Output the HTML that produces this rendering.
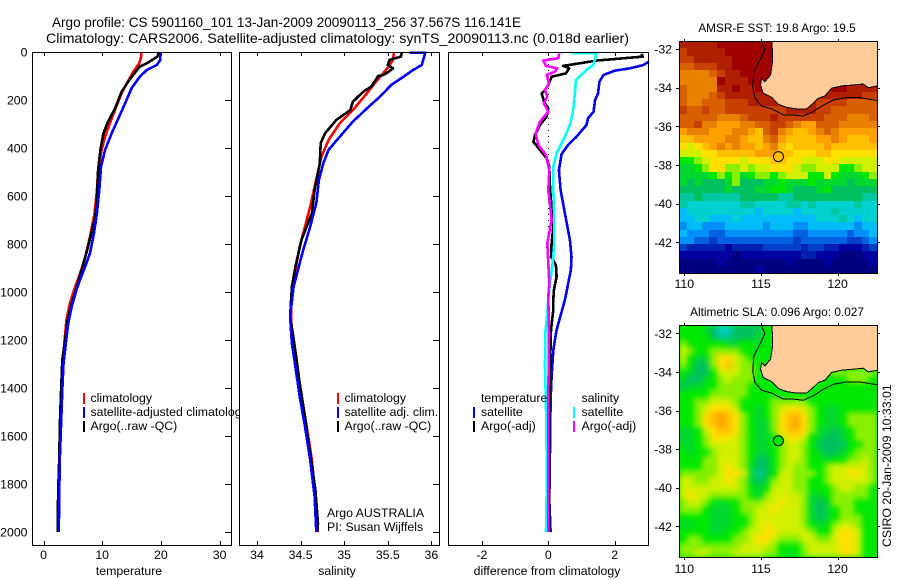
<!DOCTYPE html>
<html lang="en">
<head>
<meta charset="utf-8">
<title>Argo profile chart</title>
<style>
html,body{margin:0;padding:0;background:#fff;width:900px;height:580px;overflow:hidden}
svg{display:block}
text{font-family:"Liberation Sans",sans-serif;fill:#000}
</style>
</head>
<body>
<svg id="chart" xmlns="http://www.w3.org/2000/svg" width="900" height="580" viewBox="0 0 900 580">
<defs>
<filter id="slaBlur" color-interpolation-filters="sRGB"><feGaussianBlur stdDeviation="3"/></filter>
<clipPath id="slaClip"><rect x="679" y="325" width="198" height="232"/></clipPath>
</defs>
<rect x="0" y="0" width="900" height="580" fill="#fff"/>
<text x="52" y="27" font-size="14" textLength="469" lengthAdjust="spacingAndGlyphs">Argo profile: CS 5901160_101 13-Jan-2009 20090113_256 37.567S 116.141E</text>
<text x="46" y="43" font-size="14" textLength="583" lengthAdjust="spacingAndGlyphs">Climatology: CARS2006. Satellite-adjusted climatology: synTS_20090113.nc (0.018d earlier)</text>
<g id="layer"></g>
</svg>
<script>
// ---- axis ticks ----
const depthTicks = [0,200,400,600,800,1000,1200,1400,1600,1800,2000];
const tempTicks = [0,10,20,30];
const salTicks = [34,34.5,35,35.5,36];
const diffTicks = [-2,0,2];
const lonTicks = [110,115,120];
const latTicks = [-32,-34,-36,-38,-40,-42];

// ---- temperature panel ----
const tempClimDepth = [0,26,47,82,117,172,221,297,353,408,492,575,672,772,855,925,992,1047,1117,1200,1283,1408,1547,1686,1825,2000];
const tempClim = [16.7,16.6,16.3,15.3,14.5,13.3,12.5,11.3,10.5,9.9,9.3,9.1,8.7,7.9,7.1,6.2,5.2,4.5,3.9,3.6,3.3,3.0,2.9,2.7,2.5,2.4];
const tempSatDepth = [0,33,54,75,103,151,214,269,339,408,478,575,672,755,839,894,950,992,1061,1131,1214,1297,1408,1547,1686,1825,2000];
const tempSat = [19.9,19.9,19.3,17.6,16.4,15.0,13.9,12.9,11.6,10.5,9.8,9.5,9.1,8.6,7.9,7.1,6.2,5.6,4.8,4.2,3.8,3.4,3.2,3.0,2.8,2.7,2.6];
const tempArgoDepth = [0,19,47,61,110,165,235,290,339,408,492,617,686,811,908,992,1047,1117,1200,1283,1408,1547,1686,1825,2000];
const tempArgo = [19.7,19.4,17.6,16.4,14.8,13.3,12.2,11.0,10.2,9.7,9.3,9.1,8.8,7.6,6.5,5.5,4.8,4.1,3.7,3.2,3.0,2.8,2.7,2.5,2.4];

// ---- salinity panel ----
const salClimDepth = [3,33,61,96,130,172,242,297,367,436,547,644,728,811,908,978,1103,1214,1311,1436,1561,1700,1852,2000];
const salClim = [35.57,35.56,35.51,35.43,35.35,35.26,35.10,34.95,34.82,34.74,34.67,34.61,34.55,34.49,34.44,34.40,34.39,34.41,34.455,34.51,34.57,34.63,34.67,34.70];
const salSatDepth = [3,3,40,54,75,103,137,186,235,290,353,408,464,533,630,728,825,908,978,1103,1214,1311,1436,1561,1700,1852,2000];
const salSat = [35.75,35.93,35.90,35.89,35.79,35.68,35.54,35.41,35.26,35.10,34.95,34.82,34.76,34.71,34.68,34.61,34.53,34.47,34.42,34.38,34.40,34.44,34.49,34.55,34.61,34.66,34.68];
const salArgoDepth = [3,19,33,54,68,82,96,100,144,165,207,242,283,339,380,464,575,672,783,894,978,1103,1172,1269,1380,1519,1672,1825,1964,2000];
const salArgo = [35.66,35.65,35.52,35.50,35.56,35.51,35.45,35.39,35.31,35.22,35.10,35.07,34.91,34.78,34.73,34.72,34.66,34.63,34.51,34.44,34.40,34.38,34.41,34.45,34.49,34.55,34.61,34.67,34.70,34.69];

// ---- difference panel ----
const diffTempSatDepth = [40,55,68,78,96,124,172,200,249,276,304,353,387,425,492,575,672,783,853,908,964,1019,1033,1158,1242,1353,1450,1658,1867,2000];
const diffTempSat = [3.03,2.85,2.46,2.0,1.66,1.54,1.5,1.41,1.36,1.2,1.15,.85,.6,.4,.32,.37,.5,.65,.7,.68,.6,.52,.5,.25,.15,.1,.07,.05,.03,.07];
const diffTempArgoDepth = [8,19,36,58,68,89,103,137,158,172,207,235,269,304,346,374,408,443,478,561,658,728,797,853,887,936,992,1033,1075,1158,1311,1589,2000];
const diffTempArgo = [2.8,2.85,1.45,.45,.63,.53,.1,0,-.1,-.2,-.13,0,-.05,-.25,-.4,-.45,-.25,-.05,.03,.05,.1,.15,.1,.08,.23,.25,.17,.15,.15,.08,.05,.02,.02];
const diffSalSatDepth = [6,6,33,54,75,117,172,242,297,353,422,478,575,686,797,881,964,1026,1089,1172,1311,1478,1658,1853,2000];
const diffSalSat = [.7,1.45,1.4,1.35,1.15,.83,.8,.75,.67,.5,.25,.15,.15,.18,.18,.13,.05,0,-.03,-.09,-.1,-.07,-.05,-.05,-.07];
const diffSalArgoDepth = [6,26,36,58,68,82,96,130,158,186,214,249,290,339,387,429,492,575,658,700,797,881,964,1019,1172,1450,2000];
const diffSalArgo = [.33,.3,-.15,-.07,.27,.2,-.05,.02,-.1,-.03,-.13,0,-.25,-.38,-.3,-.07,.03,0,.07,.1,-.03,0,.03,0,.02,0,0];
const diffZeroDepth = [0,2000];
const diffZero = [0,0];

// ---- maps: level grids, top row = north ----
const sstGrid = [
[20,20,20,20,20,21,21,21,21,21,21,21,21,21,21,21,21,21,21,21,21,21,21,21,21,21],
[19,20,20,20,20,20,21,21,21,21,21,21,21,21,21,21,21,21,21,21,21,21,21,21,21,21],
[19,19,20,20,20,20,20,21,21,21,21,21,21,21,21,21,21,21,21,21,21,21,21,21,21,21],
[18,18,19,19,19,20,20,21,21,21,21,21,21,21,21,21,21,21,21,21,21,21,21,21,21,21],
[17,17,17,17,18,19,20,20,21,21,21,21,21,21,21,21,21,21,21,21,21,21,21,21,21,21],
[17,17,17,17,17,21,20,20,20,21,21,21,21,21,21,21,21,21,21,21,21,21,21,21,21,21],
[18,17,17,17,17,20,20,21,20,20,21,20,20,20,20,20,20,20,20,20,21,21,20,20,20,20],
[18,17,17,17,18,19,20,20,20,20,20,20,20,20,20,20,20,20,20,20,20,20,20,20,19,19],
[18,17,17,18,18,18,19,19,19,20,20,20,20,20,20,20,20,20,19,19,19,19,18,18,18,18],
[19,18,18,19,18,18,19,19,19,19,19,19,19,19,20,20,20,20,19,19,18,18,18,18,18,18],
[18,18,18,18,18,17,17,17,18,19,19,19,20,19,19,19,19,19,19,18,18,18,17,17,17,18],
[18,18,19,17,17,16,16,16,17,17,18,18,19,19,18,17,16,16,18,18,18,17,17,17,17,17],
[16,17,17,17,16,16,16,17,17,16,15,18,19,17,16,15,15,16,17,18,17,16,16,16,16,16],
[15,15,16,16,16,16,17,17,16,15,15,17,18,16,15,15,15,15,16,16,17,16,15,15,15,16],
[14,13,14,15,16,17,16,17,16,16,15,16,17,15,14,15,15,15,15,16,15,15,15,15,15,15],
[13,13,13,14,14,15,15,15,15,15,16,16,16,15,15,14,14,14,15,15,14,14,14,14,14,14],
[11,11,12,13,14,14,14,14,13,14,14,14,15,15,14,14,13,13,13,14,14,13,13,13,13,13],
[10,10,11,12,14,14,12,12,13,12,13,13,14,14,14,13,12,12,13,13,13,11,11,12,13,13],
[10,10,10,10,11,12,11,12,10,11,12,12,11,12,13,13,13,11,11,13,11,10,10,10,11,12],
[10,9,10,9,9,9,10,12,9,9,9,10,10,11,10,10,10,11,10,10,10,10,9,10,10,10],
[9,9,9,9,9,9,10,9,9,9,10,10,11,11,10,9,9,9,10,11,9,9,9,9,9,9],
[8,8,9,8,8,8,8,8,9,9,9,9,9,8,8,9,9,9,9,9,9,9,9,9,8,8],
[8,7,7,7,7,7,7,7,8,8,7,7,7,7,8,8,7,8,7,7,7,7,7,8,7,7],
[6,7,7,7,7,7,7,7,7,7,6,7,7,7,7,6,7,7,7,7,8,7,7,7,7,7],
[6,6,7,7,6,6,6,7,6,6,6,6,6,6,6,6,6,6,7,7,7,8,7,6,7,7],
[5,6,6,5,5,5,6,6,6,6,6,5,6,6,6,5,5,6,6,6,6,6,6,5,6,6],
[6,5,5,5,4,4,5,5,5,5,5,5,5,5,5,4,4,5,5,5,5,5,4,5,5,6],
[5,5,4,4,3,4,4,4,4,4,4,4,4,4,4,3,4,4,4,4,4,4,3,3,4,5],
[3,2,2,2,2,2,1,2,2,2,2,3,3,3,3,3,2,3,3,2,2,1,1,1,2,3],
[1,1,1,1,1,1,1,0,1,1,1,1,1,1,1,1,2,2,1,1,1,0,0,0,1,1],
[0,0,0,0,0,1,0,0,0,0,0,0,0,0,1,0,0,0,0,1,0,0,0,0,0,1],
[0,0,0,0,0,0,0,0,0,0,1,0,0,0,0,0,0,0,0,0,0,0,0,0,0,0]
];
const slaGrid = [
[11,11,11,10,9,7,7,9,9,9,9,11,11,11,11,11,11,11,11,11,11,11,11,11,11,11],
[11,11,11,11,9,8,8,9,9,9,10,11,11,11,11,11,11,11,11,11,11,11,11,11,11,11],
[12,11,11,11,11,11,10,10,11,11,10,11,11,11,11,11,11,11,11,11,11,11,11,11,11,11],
[13,12,11,11,12,12,12,12,11,11,11,11,11,11,11,11,11,11,11,11,11,11,11,11,11,11],
[13,11,10,10,12,14,14,13,12,11,11,11,11,11,11,11,11,11,11,11,11,11,11,11,11,11],
[12,11,9,9,12,14,15,13,12,12,11,11,11,11,11,11,11,11,11,11,11,11,11,11,11,11],
[11,10,9,9,11,13,13,13,12,12,11,11,11,11,11,11,11,11,11,11,12,12,12,12,12,12],
[10,9,9,10,11,12,13,12,12,12,11,11,11,11,11,11,11,11,11,11,11,11,12,12,12,11],
[9,10,10,11,11,12,12,12,12,11,11,11,11,11,11,11,11,11,11,11,11,11,11,11,11,11],
[11,11,11,11,12,12,12,12,12,11,11,11,11,11,11,11,11,11,11,11,11,11,11,11,11,11],
[11,11,12,12,13,13,13,12,11,11,11,11,12,12,12,12,12,11,11,11,11,11,11,11,11,11],
[11,11,12,13,14,14,14,13,11,11,10,11,12,13,14,14,13,12,11,10,10,11,11,11,11,11],
[11,11,12,14,15,16,15,14,12,11,10,11,12,14,15,15,14,12,11,10,10,11,12,12,12,12],
[11,11,12,14,15,16,15,14,12,11,10,10,12,14,15,16,14,12,11,10,10,11,12,12,12,12],
[10,10,11,13,14,15,15,14,12,11,10,10,12,14,15,15,14,12,10,10,9,10,11,12,12,12],
[10,10,11,12,14,14,14,13,12,11,10,10,11,13,14,14,13,11,10,9,9,10,11,12,12,12],
[10,10,11,12,13,13,13,13,12,11,10,10,11,12,13,13,12,11,9,9,9,9,11,11,12,12],
[11,10,11,11,12,13,13,13,12,11,10,10,11,12,13,13,12,11,10,9,9,10,11,12,12,12],
[11,11,11,12,12,13,13,13,12,11,9,9,11,12,13,13,12,11,11,10,11,11,12,12,13,12],
[11,11,11,12,12,13,14,13,12,10,9,9,11,12,13,12,12,11,11,12,13,13,13,13,13,12],
[12,12,12,12,12,13,14,14,13,10,8,9,11,13,13,12,12,12,11,12,13,13,14,14,13,12],
[13,13,12,12,13,13,14,13,12,10,9,10,12,13,13,12,12,11,11,12,13,13,13,13,13,12],
[13,13,13,13,13,13,13,13,12,11,10,11,13,13,13,12,12,11,11,11,12,13,13,12,12,11],
[13,14,13,13,12,12,12,12,12,11,10,12,13,13,13,13,12,10,10,11,12,12,12,12,12,11],
[12,13,13,12,11,10,11,11,12,12,12,13,13,14,13,13,12,10,9,10,12,12,12,11,11,11],
[12,12,12,11,10,10,10,11,12,12,13,13,14,13,13,13,12,10,9,10,11,12,12,11,11,11],
[11,11,11,11,10,10,10,11,11,12,13,13,13,13,13,13,12,10,9,10,11,12,12,12,11,11],
[10,10,11,11,10,10,10,11,11,12,13,14,13,13,13,13,12,11,10,11,12,13,13,12,11,11],
[11,11,11,11,10,10,11,11,12,13,13,14,14,13,13,13,13,12,11,11,13,14,14,13,11,11],
[11,12,12,11,11,11,11,12,12,13,14,14,13,12,12,12,13,13,12,12,13,14,14,13,11,11],
[12,12,12,12,12,12,12,12,13,13,13,13,12,11,11,11,12,13,13,13,13,14,14,13,11,11],
[12,12,13,13,12,12,12,13,13,13,13,12,12,11,10,11,12,13,13,13,13,14,14,13,11,11]
];
const levelColors = ['#000080','#0000a0','#0020b0','#0040c8','#0060e0','#0090f8','#00bcf8','#00d0d0','#00c8a0','#00c060','#00d830','#00e800','#88f000','#d0f000','#ffe000','#ffc000','#ffa000','#e88000','#d86000','#c84000','#b02000','#a00000'];
const coastLon = [115.70,115.74,115.74,115.63,115.26,115.04,114.98,115.15,115.70,116.13,116.67,117.33,117.98,118.41,118.74,119.17,119.61,120.26,121.02,121.67,122.0,122.6,122.6];
const coastLat = [-31.6,-31.97,-32.74,-33.34,-33.69,-33.52,-33.86,-34.29,-34.50,-34.86,-35.02,-35.10,-35.10,-34.81,-34.55,-34.43,-34.03,-33.91,-33.86,-33.81,-34.0,-33.91,-31.6];
const isobathLon = [115.04,115.26,114.93,114.54,114.46,114.61,115.04,115.70,116.46,117.11,117.76,118.41,119.07,119.72,120.59,121.46,122.6];
const isobathLat = [-31.6,-32.02,-32.57,-33.17,-33.95,-34.55,-34.95,-35.10,-35.41,-35.41,-35.47,-35.24,-34.90,-34.64,-34.52,-34.52,-34.67];
const floatLon = [116.141];
const floatLat = [-37.567];
const sstFloatLevel = [15];
const slaFloatLevel = [11];

const SVGNS = 'http://www.w3.org/2000/svg';
const layer = document.getElementById('layer');
function add(tag, attrs, name, txt, parent){
  const el = document.createElementNS(SVGNS, tag);
  for (const k in attrs) el.setAttribute(k, attrs[k]);
  
  
  if (txt !== undefined) el.textContent = txt;
  (parent || layer).appendChild(el);
  return el;
}
function label(x, y, s, anchor, name, size){
  return add('text', {x:x, y:y, 'font-size':size||12.3, 'text-anchor':anchor||'start'}, name, s);
}

// axis functions
const yDepth = d => 52 + 0.24 * d;
const xTemp = v => 43.5 + 5.87 * v;
const xSal = v => 257 + 87.2 * (v - 34);
const xDiff = v => 548.3 + 33.2 * v;
const xLon = v => 684.3 + 15.33 * (v - 110);
const yLatA = v => 49 + 19.33 * (-32 - v);
const yLatB = v => 333.3 + 19.3 * (-32 - v);

function series(xs, ds, xf, color, width, name, dash){
  const pts = xs.map((v, i) => xf(v).toFixed(1) + ',' + yDepth(ds[i]).toFixed(1)).join(' ');
  const a = {points:pts, fill:'none', stroke:color, 'stroke-width':width, 'stroke-linejoin':'round', 'shape-rendering':'crispEdges'};
  if (dash) a['stroke-dasharray'] = dash;
  add('polyline', a, name);
}
function panelFrame(x0, x1, name){
  add('rect', {x:x0+0.5, y:52.5, width:x1-x0, height:493, fill:'none', stroke:'#000', 'stroke-width':1, 'shape-rendering':'crispEdges'}, name);
}
function xAxis(ticks, xf, prefix){
  ticks.forEach(t => {
    const x = Math.round(xf(t)) + 0.5;
    add('line', {x1:x, x2:x, y1:52, y2:56, stroke:'#000', 'shape-rendering':'crispEdges'}, prefix + '-top-tick');
    add('line', {x1:x, x2:x, y1:541, y2:546, stroke:'#000', 'shape-rendering':'crispEdges'}, prefix + '-bottom-tick');
    label(xf(t), 559, String(t), 'middle', prefix + '-tick-label');
  });
}
function rightTicks(x1, prefix){
  depthTicks.forEach(d => {
    const y = Math.round(yDepth(d)) + 0.5;
    add('line', {x1:x1-6, x2:x1, y1:y, y2:y, stroke:'#000', 'shape-rendering':'crispEdges'}, prefix + '-depth-tick');
  });
}
function legendBar(x, y, color, name){
  add('rect', {x:x, y:y, width:2, height:11, fill:color}, name);
}

// ---------- temperature panel ----------
add('rect', {x:32, y:52, width:199, height:493, fill:'#fff'}, 'temperature-panel-background');
series(tempClim, tempClimDepth, xTemp, '#ff0000', 2.6, 'temperature-climatology-line');
series(tempArgo, tempArgoDepth, xTemp, '#000000', 2.6, 'temperature-argo-line');
series(tempSat, tempSatDepth, xTemp, '#0000ff', 2.6, 'temperature-satellite-line');
panelFrame(32, 231, 'temperature-panel-frame');
xAxis(tempTicks, xTemp, 'temperature-axis');
rightTicks(231, 'temperature-panel');
depthTicks.forEach(d => label(27.5, yDepth(d) + 4.5, String(d), 'end', 'depth-tick-label'));
label(129, 575, 'temperature', 'middle', 'temperature-axis-title');
legendBar(83, 393, '#ff0000', 'legend-marker-climatology');
legendBar(83, 407, '#0000ff', 'legend-marker-satellite');
legendBar(83, 421, '#000000', 'legend-marker-argo');
label(90.5, 402, 'climatology', 'start', 'legend-entry-climatology');
label(90.5, 416, 'satellite-adjusted climatology', 'start', 'legend-entry-satellite');
label(90.5, 430, 'Argo(..raw -QC)', 'start', 'legend-entry-argo');

// ---------- salinity panel ----------
add('rect', {x:239, y:52, width:200, height:493, fill:'#fff'}, 'salinity-panel-background');
series(salClim, salClimDepth, xSal, '#ff0000', 2.6, 'salinity-climatology-line');
series(salArgo, salArgoDepth, xSal, '#000000', 2.6, 'salinity-argo-line');
series(salSat, salSatDepth, xSal, '#0000ff', 2.6, 'salinity-satellite-line');
panelFrame(239, 439, 'salinity-panel-frame');
xAxis(salTicks, xSal, 'salinity-axis');
rightTicks(439, 'salinity-panel');
label(337, 575, 'salinity', 'middle', 'salinity-axis-title');
legendBar(337, 393, '#ff0000', 'salinity-legend-marker-climatology');
legendBar(337, 407, '#0000ff', 'salinity-legend-marker-satellite');
legendBar(337, 421, '#000000', 'salinity-legend-marker-argo');
label(344.5, 402, 'climatology', 'start', 'salinity-legend-entry-climatology');
label(344.5, 416, 'satellite adj. clim.', 'start', 'salinity-legend-entry-satellite');
label(344.5, 430, 'Argo(..raw -QC)', 'start', 'salinity-legend-entry-argo');
label(327, 517, 'Argo AUSTRALIA', 'start', 'argo-program-note');
label(327, 531, 'PI: Susan Wijffels', 'start', 'principal-investigator-note');

// ---------- difference panel ----------
add('rect', {x:448, y:52, width:200, height:493, fill:'#fff'}, 'difference-panel-background');
series(diffZero, diffZeroDepth, xDiff, '#000000', 1, 'difference-zero-line', '1 5');
series(diffTempSat, diffTempSatDepth, xDiff, '#0000ee', 2.6, 'difference-temperature-satellite-line');
series(diffTempArgo, diffTempArgoDepth, xDiff, '#000000', 2.6, 'difference-temperature-argo-line');
series(diffSalSat, diffSalSatDepth, xDiff, '#00ffff', 2.6, 'difference-salinity-satellite-line');
series(diffSalArgo, diffSalArgoDepth, xDiff, '#ff00ff', 2.6, 'difference-salinity-argo-line');
panelFrame(448, 648, 'difference-panel-frame');
xAxis(diffTicks, xDiff, 'difference-axis');
label(547, 575, 'difference from climatology', 'middle', 'difference-axis-title');
label(481, 402, 'temperature', 'start', 'difference-legend-temperature-header');
label(481, 416, 'satellite', 'start', 'difference-legend-temperature-satellite');
label(481, 430, 'Argo(-adj)', 'start', 'difference-legend-temperature-argo');
label(581.5, 402, 'salinity', 'start', 'difference-legend-salinity-header');
label(581.5, 416, 'satellite', 'start', 'difference-legend-salinity-satellite');
label(581.5, 430, 'Argo(-adj)', 'start', 'difference-legend-salinity-argo');
legendBar(473, 407, '#0000ff', 'difference-legend-marker-temperature-satellite');
legendBar(473, 421, '#000000', 'difference-legend-marker-temperature-argo');
legendBar(573, 407, '#00ffff', 'difference-legend-marker-salinity-satellite');
legendBar(573, 421, '#ff00ff', 'difference-legend-marker-salinity-argo');

// ---------- maps ----------
function drawMap(grid, yTop, yBot, yLat, prefix, floatLevel, titleText, titleY, labelY, smooth){
  const xL = 679, xR = 877;
  const rows = grid.length, cols = grid[0].length;
  const outer = add('g', smooth ? {'clip-path':'url(#slaClip)'} : {}, prefix + '-field');
  add('rect', {x:xL, y:yTop, width:xR - xL, height:yBot - yTop, fill:levelColors[11]}, prefix + '-field-background', undefined, outer);
  const inner = add('g', smooth ? {filter:'url(#slaBlur)'} : {}, prefix + '-cells', undefined, outer);
  grid.forEach((row, r) => row.forEach((lev, c) => {
    const x0 = Math.round(xL + (xR - xL) * c / cols), x1 = Math.round(xL + (xR - xL) * (c + 1) / cols);
    const y0 = Math.round(yTop + (yBot - yTop) * r / rows), y1 = Math.round(yTop + (yBot - yTop) * (r + 1) / rows);
    add('rect', {x:x0, y:y0, width:x1 - x0, height:y1 - y0, fill:levelColors[lev]}, prefix + '-cell', undefined, inner);
  }));
  const coast = coastLon.map((v, i) => xLon(v).toFixed(1) + ',' + yLat(coastLat[i]).toFixed(1)).join(' ');
  add('polygon', {points:coast, fill:'#ffcc99', stroke:'#000', 'stroke-width':1, 'shape-rendering':'crispEdges'}, prefix + '-australia-land');
  const iso = isobathLon.map((v, i) => xLon(v).toFixed(1) + ',' + yLat(isobathLat[i]).toFixed(1)).join(' ');
  add('polyline', {points:iso, fill:'none', stroke:'#000', 'stroke-width':1, 'shape-rendering':'crispEdges'}, prefix + '-isobath');
  add('circle', {cx:xLon(floatLon[0]), cy:yLat(floatLat[0]), r:5, fill:levelColors[floatLevel[0]], stroke:'#000', 'stroke-width':1}, prefix + '-float-marker');
  add('rect', {x:xL + 0.5, y:yTop + 0.5, width:xR - xL, height:yBot - yTop, fill:'none', stroke:'#000', 'shape-rendering':'crispEdges'}, prefix + '-frame');
  lonTicks.forEach(t => {
    const x = Math.round(xLon(t)) + 0.5;
    add('line', {x1:x, x2:x, y1:yTop - 2, y2:yTop, stroke:'#000', 'shape-rendering':'crispEdges'}, prefix + '-lon-top-tick');
    add('line', {x1:x, x2:x, y1:yBot, y2:yBot + 3, stroke:'#000', 'shape-rendering':'crispEdges'}, prefix + '-lon-bottom-tick');
    label(xLon(t), labelY, String(t), 'middle', prefix + '-lon-tick-label');
  });
  latTicks.forEach(t => {
    const y = Math.round(yLat(t)) + 0.5;
    add('line', {x1:xL - 3, x2:xL, y1:y, y2:y, stroke:'#000', 'shape-rendering':'crispEdges'}, prefix + '-lat-left-tick');
    add('line', {x1:xR, x2:xR + 3, y1:y, y2:y, stroke:'#000', 'shape-rendering':'crispEdges'}, prefix + '-lat-right-tick');
    label(672, yLat(t) + 4.5, String(t), 'end', prefix + '-lat-tick-label');
  });
  label(777, titleY, titleText, 'middle', prefix + '-title', 11.8);
}
drawMap(sstGrid, 41, 273, yLatA, 'sst-map', sstFloatLevel, 'AMSR-E SST: 19.8 Argo: 19.5', 32, 288, false);
drawMap(slaGrid, 325, 557, yLatB, 'sla-map', slaFloatLevel, 'Altimetric SLA: 0.096 Argo: 0.027', 316, 573, true);

const stamp = add('text', {x:0, y:0, 'font-size':12.3, transform:'translate(891 547) rotate(-90)'}, 'csiro-timestamp', 'CSIRO 20-Jan-2009 10:33:01');
</script>
</body>
</html>
